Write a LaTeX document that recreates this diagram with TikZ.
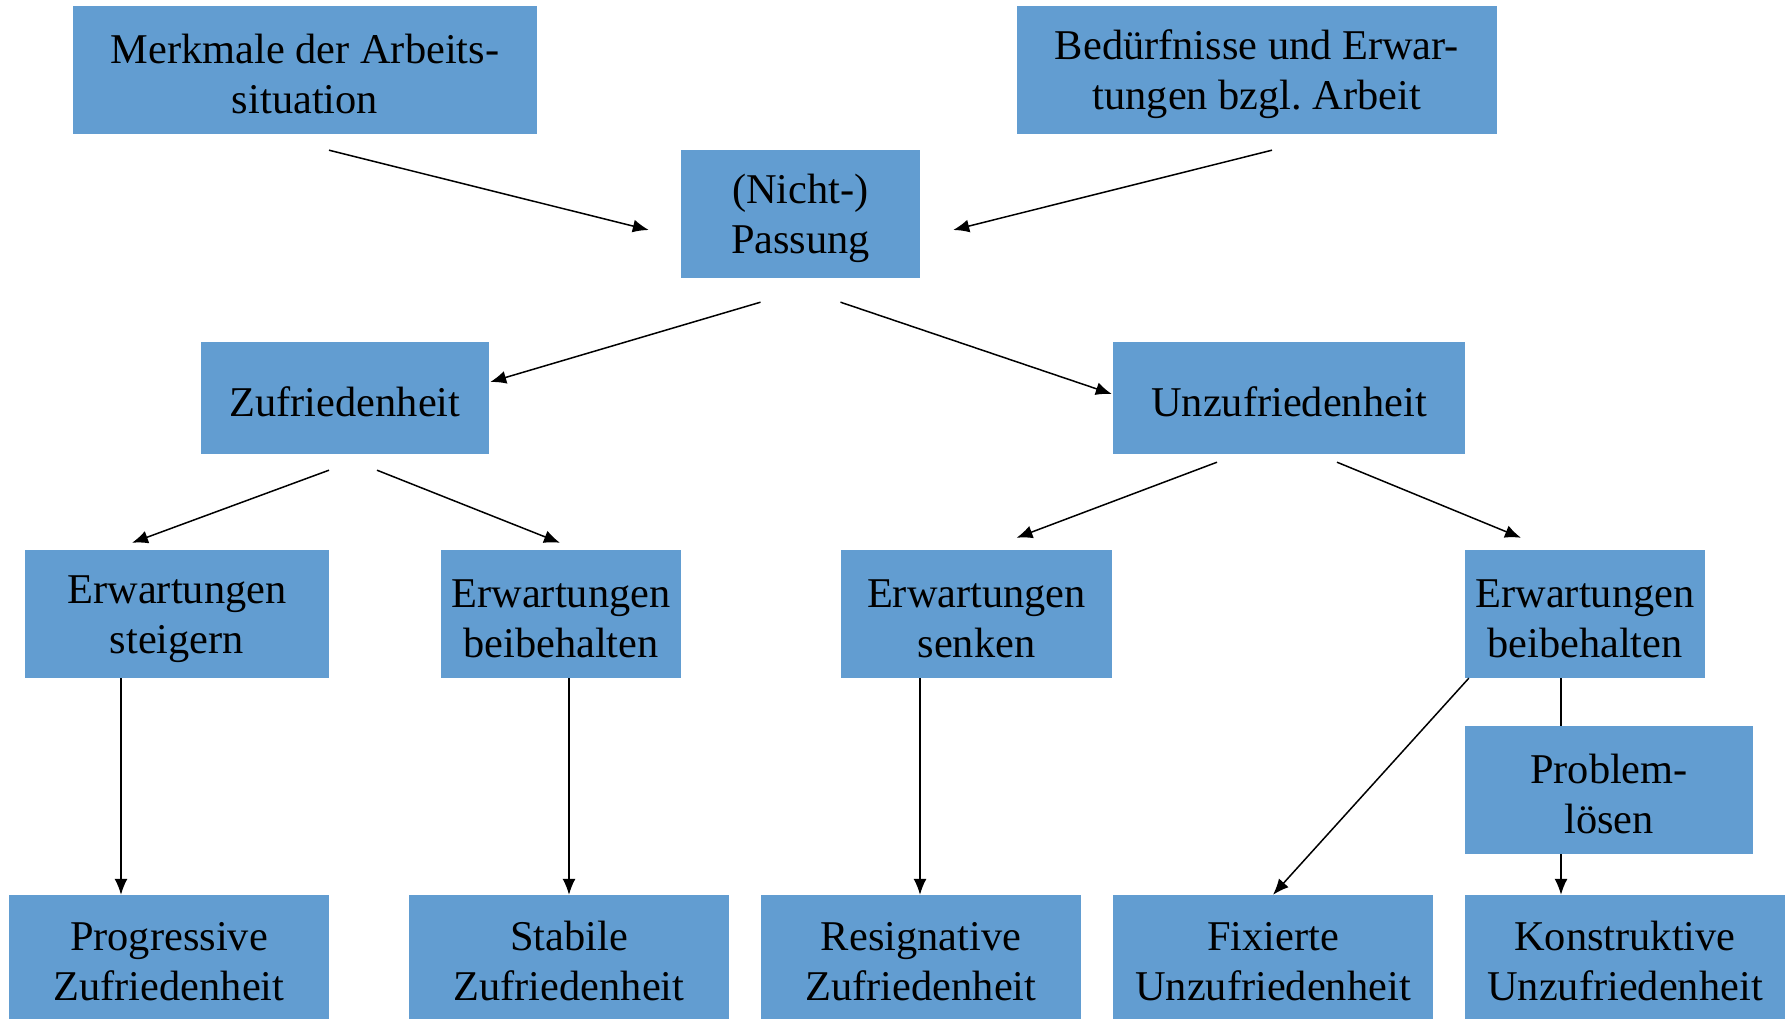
\documentclass[tikz,border=0pt]{standalone}
\usepackage{fontspec}
\setmainfont{Liberation Serif}
\usetikzlibrary{arrows.meta, positioning}

\definecolor{boxblue}{RGB}{98,157,209}
\newcommand{\topstrut}{\rule{0pt}{38pt}}

\begin{document}
\begin{tikzpicture}[x=1pt, y=-1pt,
        font=\fontsize{42.4}{50}\selectfont\frenchspacing,
        box/.style={rectangle, fill=boxblue, inner sep=0pt, align=center, minimum height=128pt},
        link/.style={line width=1.5pt, -{Latex[length=16pt, width=13pt]}},
        plain/.style={line width=1.5pt}]

      \useasboundingbox (0,0) rectangle (1789,1019);

      % 1. Inputs
      \node [box, minimum width=464pt] (merkmale) at (305,70) {\topstrut Merkmale der Arbeits-\\situation};
      \node [box, minimum width=480pt] (bedarf) at (1257,70) {\topstrut Bedürfnisse und Erwar-\\tungen bzgl. Arbeit};
      \node [box, minimum width=239pt] (passung) at (800.5,214) {\topstrut (Nicht-)\\Passung};

      % 2. Results of the comparison
      \node [box, minimum width=288pt, minimum height=112pt] (zufr) at (345,398) {\topstrut Zufriedenheit};
      \node [box, minimum width=352pt, minimum height=112pt] (unzufr) at (1289,398) {\topstrut Unzufriedenheit};

      % 3. Expectations
      \node [box, minimum width=304pt] (steig) at (177,614) {\topstrut Erwartungen\\steigern};
      \node [box, minimum width=240pt] (beib1) at (561,614) {\topstrut Erwartungen\\beibehalten};
      \node [box, minimum width=271pt] (senk) at (976.5,614) {\topstrut Erwartungen\\senken};
      \node [box, minimum width=240pt] (beib2) at (1585,614) {\topstrut Erwartungen\\beibehalten};
      \node [box, minimum width=288pt] (problem) at (1609,790) {\topstrut Problem-\\lösen};

      % 4. Forms of satisfaction
      \node [box, minimum width=320pt, minimum height=124pt] (prog) at (169,957) {\topstrut Progressive\\Zufriedenheit};
      \node [box, minimum width=320pt, minimum height=124pt] (stab) at (569,957) {\topstrut Stabile\\Zufriedenheit};
      \node [box, minimum width=320pt, minimum height=124pt] (resig) at (921,957) {\topstrut Resignative\\Zufriedenheit};
      \node [box, minimum width=320pt, minimum height=124pt] (fix) at (1273,957) {\topstrut Fixierte\\Unzufriedenheit};
      \node [box, minimum width=320pt, minimum height=124pt] (konstr) at (1625,957) {\topstrut Konstruktive\\Unzufriedenheit};

      % 5. Draw Connections
      \draw [link] ([xshift=24pt, yshift=-16pt]merkmale.south) -- ([xshift=-32pt, yshift=-16pt]passung.west);
      \draw [link] ([xshift=15pt, yshift=-16pt]bedarf.south) -- ([xshift=33pt, yshift=-16pt]passung.east);

      \draw [link] ([xshift=-40pt, yshift=-24pt]passung.south) -- ([xshift=1pt, yshift=16pt]zufr.east);
      \draw [link] ([xshift=40pt, yshift=-24pt]passung.south) -- ([xshift=-1pt, yshift=4pt]unzufr.west);

      \draw [link] ([xshift=-16pt, yshift=-16pt]zufr.south) -- ([xshift=-45pt, yshift=7pt]steig.north);
      \draw [link] ([xshift=32pt, yshift=-16pt]zufr.south) -- ([xshift=-1pt, yshift=7pt]beib1.north);
      \draw [link] ([xshift=-72pt, yshift=-8pt]unzufr.south) -- ([xshift=40pt, yshift=12pt]senk.north);
      \draw [link] ([xshift=48pt, yshift=-8pt]unzufr.south) -- ([xshift=-64pt, yshift=12pt]beib2.north);

      \draw [link] ([xshift=-56pt]steig.south) -- ([xshift=-48pt]prog.north);
      \draw [link] ([xshift=8pt]beib1.south) -- (stab.north);
      \draw [link] ([xshift=-56.5pt]senk.south) -- ([xshift=-1pt]resig.north);
      \draw [link] ([xshift=4pt]beib2.south west) -- (fix.north);
      \draw [plain] ([xshift=-24pt]beib2.south) -- ([xshift=-48pt]problem.north);
      \draw [link] ([xshift=-48pt]problem.south) -- ([xshift=-64pt]konstr.north);
    \end{tikzpicture}
\end{document}
